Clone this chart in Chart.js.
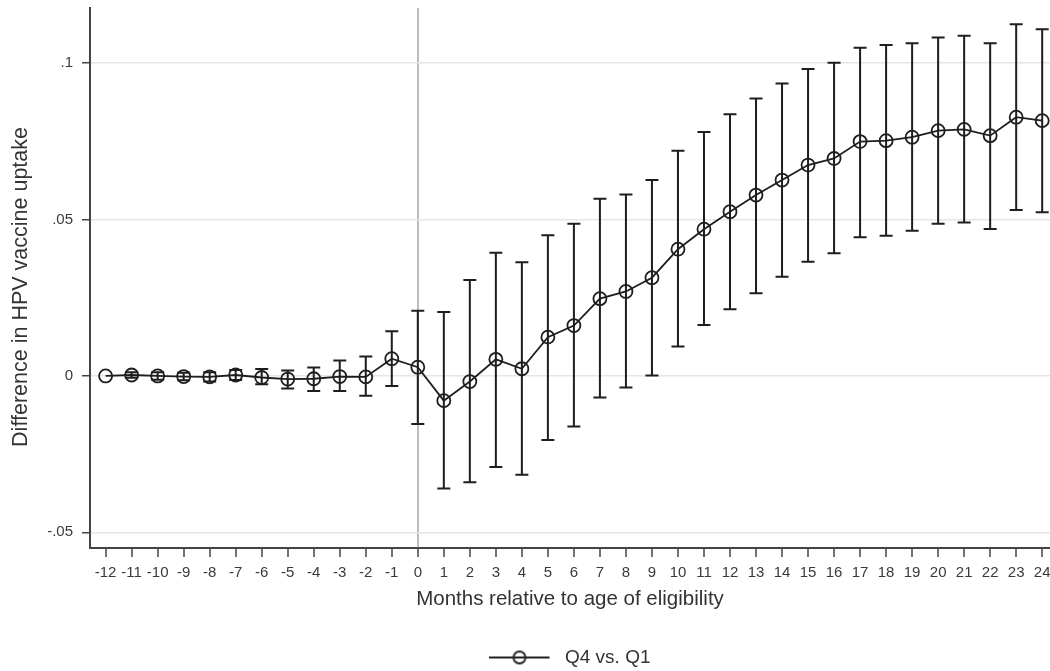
<!DOCTYPE html>
<html>
<head>
<meta charset="utf-8">
<script src="https://cdn.jsdelivr.net/npm/chart.js@4.4.1/dist/chart.umd.min.js"></script>
<style>
  html, body { margin: 0; padding: 0; background: #fff; }
  #wrap { width: 1050px; height: 671px; }
</style>
</head>
<body>
<div id="wrap"><canvas id="myChart" width="1050" height="671"></canvas></div>
<script>
// event-study estimates, Q4 vs. Q1, by month relative to eligibility
const months = [-12, -11, -10, -9, -8, -7, -6, -5, -4, -3, -2, -1,
  0, 1, 2, 3, 4, 5, 6, 7, 8, 9, 10, 11, 12, 13, 14, 15, 16, 17, 18, 19, 20, 21, 22, 23, 24];
const estimate = [0, 0.0003, 0, -0.0002, -0.0003, 0.0003, -0.0005, -0.0010, -0.0009, -0.0002, -0.0003, 0.0055,
  0.0028, -0.0079, -0.0018, 0.0053, 0.0023, 0.0124, 0.0161, 0.0247, 0.0270, 0.0314, 0.0405, 0.0469, 0.0525,
  0.0578, 0.0626, 0.0674, 0.0695, 0.0749, 0.0752, 0.0763, 0.0784, 0.0788, 0.0768, 0.0827, 0.0816];
const upper = [0, 0.0012, 0.0012, 0.0010, 0.0012, 0.0019, 0.0022, 0.0017, 0.0027, 0.0049, 0.0062, 0.0143,
  0.0208, 0.0204, 0.0307, 0.0394, 0.0363, 0.0450, 0.0486, 0.0566, 0.0580, 0.0626, 0.0720, 0.0780, 0.0836,
  0.0887, 0.0935, 0.0981, 0.1001, 0.1049, 0.1058, 0.1063, 0.1082, 0.1087, 0.1063, 0.1124, 0.1108];
const lower = [0, -0.0006, -0.0012, -0.0014, -0.0018, -0.0013, -0.0027, -0.0040, -0.0048, -0.0048, -0.0063, -0.0032,
  -0.0154, -0.0360, -0.0340, -0.0291, -0.0316, -0.0205, -0.0162, -0.0069, -0.0037, 0.0001, 0.0094, 0.0163, 0.0213,
  0.0264, 0.0317, 0.0365, 0.0392, 0.0443, 0.0448, 0.0464, 0.0486, 0.0490, 0.0470, 0.0530, 0.0523];

const yTickValues = [-0.05, 0, 0.05, 0.1];
const yTickLabels = ['-.05', '0', '.05', '.1'];
const refMonth = 0;

const seriesLabel = 'Q4 vs. Q1';
const xTitle = 'Months relative to age of eligibility';
// trailing spaces push the rotated title a little lower along the axis
const yTitle = 'Difference in HPV vaccine uptake   ';

const ink = '#1e1e1e';
const fontFamily = '"Liberation Sans", Arial, Helvetica, sans-serif';

// 95% CI whiskers with caps, drawn under the hollow markers
const errorBars = {
  id: 'errorBars',
  beforeDatasetsDraw(chart) {
    const { ctx, scales: { x, y } } = chart;
    const cap = 6.5;
    ctx.save();
    ctx.strokeStyle = ink;
    ctx.lineWidth = 2;
    months.forEach((m, i) => {
      const px = x.getPixelForValue(m);
      const top = y.getPixelForValue(upper[i]);
      const bot = y.getPixelForValue(lower[i]);
      if (Math.abs(bot - top) < 0.5) return;
      ctx.beginPath();
      ctx.moveTo(px, top); ctx.lineTo(px, bot);
      ctx.moveTo(px - cap, top); ctx.lineTo(px + cap, top);
      ctx.moveTo(px - cap, bot); ctx.lineTo(px + cap, bot);
      ctx.stroke();
    });
    ctx.restore();
  }
};

// line-with-circle key for the legend
function legendSymbol() {
  const c = document.createElement('canvas');
  c.width = 66; c.height = 16;
  const g = c.getContext('2d');
  g.strokeStyle = ink;
  g.lineWidth = 2;
  g.beginPath(); g.moveTo(0, 8); g.lineTo(60, 8); g.stroke();
  g.lineWidth = 1.8;
  g.beginPath(); g.arc(30, 8, 6, 0, Math.PI * 2); g.stroke();
  return c;
}

const ctx = document.getElementById('myChart').getContext('2d');

new Chart(ctx, {
  type: 'line',
  data: {
    datasets: [{
      label: seriesLabel,
      data: months.map((m, i) => ({ x: m, y: estimate[i] })),
      borderColor: ink,
      borderWidth: 1.8,
      pointRadius: 6.5,
      pointBorderWidth: 1.8,
      pointBorderColor: ink,
      pointBackgroundColor: 'rgba(0,0,0,0)',
      tension: 0,
      clip: false,
    }],
  },
  options: {
    responsive: false,
    devicePixelRatio: 1,
    animation: false,
    layout: { autoPadding: false, padding: { top: 8, left: 0, right: 0, bottom: 0 } },
    plugins: {
      tooltip: { enabled: false },
      legend: {
        position: 'bottom',
        fullSize: false,
        maxHeight: 23,
        labels: {
          usePointStyle: true,
          pointStyleWidth: 66,
          padding: 0,
          color: '#333',
          font: { family: fontFamily, size: 19, lineHeight: 1.2 },
          generateLabels: () => [{
            text: seriesLabel,
            pointStyle: legendSymbol(),
            fillStyle: 'rgba(0,0,0,0)',
            strokeStyle: 'rgba(0,0,0,0)',
            lineWidth: 0,
            hidden: false,
            datasetIndex: 0,
            fontColor: '#333',
          }],
        },
      },
    },
    scales: {
      x: {
        type: 'linear',
        min: -12.6,
        max: 24.3,
        afterBuildTicks: s => { s.ticks = months.map(v => ({ value: v })); },
        afterFit: s => { s.height = 100; s.paddingLeft = 0; s.paddingRight = 0; },
        ticks: {
          autoSkip: false,
          maxRotation: 0,
          padding: 7,
          color: '#3a3a3a',
          font: { family: fontFamily, size: 15 },
          callback: v => String(v),
        },
        grid: {
          drawOnChartArea: true,
          color: c => (c.tick && c.tick.value === refMonth ? '#bdbdbd' : 'rgba(0,0,0,0)'),
          lineWidth: 2,
          tickColor: '#444',
          tickLength: 9,
          tickWidth: 1.5,
        },
        border: { display: true, color: '#444', width: 2 },
        title: {
          display: true,
          text: xTitle,
          color: '#333',
          font: { family: fontFamily, size: 20.5 },
          padding: { top: 0, bottom: 36 },
        },
      },
      y: {
        type: 'linear',
        min: -0.055,
        max: 0.1176,
        afterBuildTicks: s => { s.ticks = yTickValues.map(v => ({ value: v })); },
        afterFit: s => { s.width = 90; s.paddingTop = 0; s.paddingBottom = 0; },
        ticks: {
          padding: 9,
          color: '#3a3a3a',
          font: { family: fontFamily, size: 15 },
          callback: (v, i) => yTickLabels[i],
        },
        grid: {
          color: '#e6e6e6',
          lineWidth: 1.5,
          tickColor: '#444',
          tickLength: 8,
          tickWidth: 1.5,
        },
        border: { display: true, color: '#444', width: 2 },
        title: {
          display: true,
          text: yTitle,
          color: '#333',
          font: { family: fontFamily, size: 21.5 },
          padding: { top: 8, bottom: 0 },
        },
      },
    },
  },
  plugins: [errorBars],
});
</script>
</body>
</html>
